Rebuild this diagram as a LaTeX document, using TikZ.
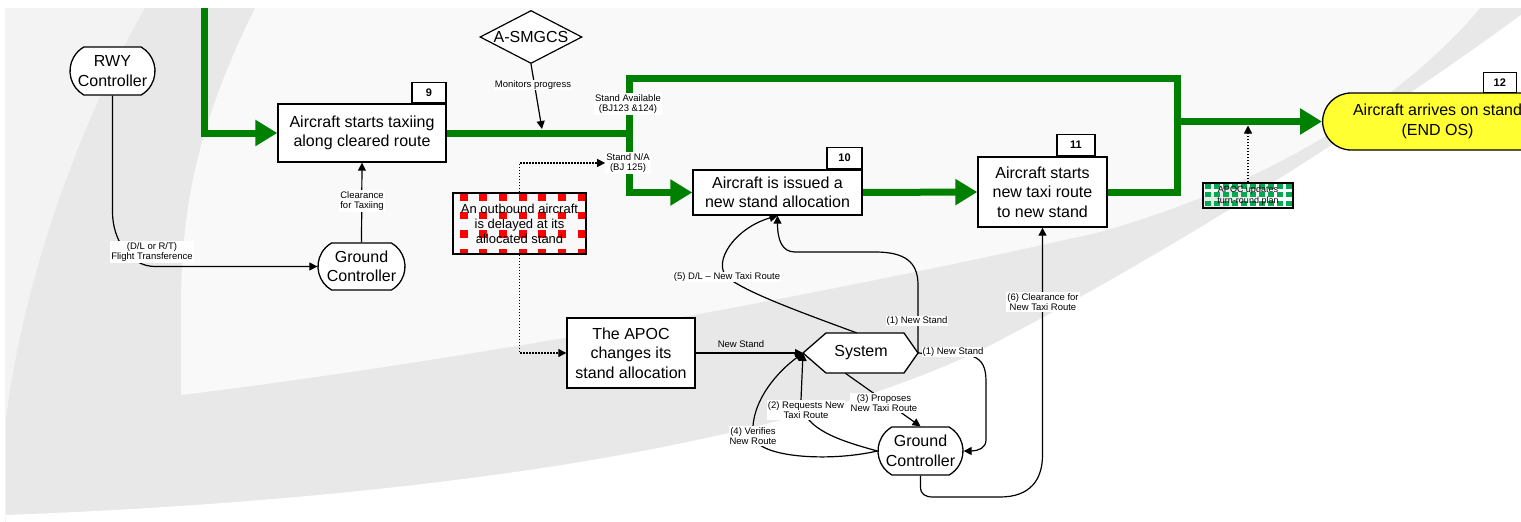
\documentclass[tikz,border=0pt]{standalone}
\usepackage{fontspec}
\setmainfont{Liberation Sans}
\usetikzlibrary{arrows.meta,shapes.geometric,shapes.misc}
\definecolor{flow}{RGB}{0,128,0}
\definecolor{bgband}{RGB}{232,232,232}
\definecolor{bglight}{RGB}{243,243,243}
\definecolor{bginner}{RGB}{249,249,249}
\definecolor{stopred}{RGB}{255,0,0}
\definecolor{chkgreen}{RGB}{0,170,80}
\definecolor{endyellow}{RGB}{255,255,50}
\pgfdeclarelayer{back}
\pgfdeclarelayer{wires}
\pgfsetlayers{back,wires,main}

\begin{document}
\begin{tikzpicture}[x=1pt,y=-1pt,
  every node/.style={inner sep=0pt},
  mainfont/.style={font=\fontsize{16}{19.5}\selectfont},
  box/.style={draw=black,line width=1.4pt,fill=white,align=center,mainfont},
  numbox/.style={draw=black,line width=1.4pt,fill=white,font=\fontsize{11}{12}\selectfont\bfseries,
    minimum width=34pt,minimum height=20pt},
  ctrl/.style={rounded rectangle,rounded rectangle arc length=120,draw=black,line width=1.3pt,
    fill=white,align=center,mainfont},
  tag/.style={fill=white,align=center,font=\fontsize{9.5}{10.5}\selectfont,inner sep=1pt},
  flowline/.style={draw=flow,line width=7pt},
  flowarrow/.style={flowline,-{Triangle[length=22pt,width=25pt]}},
  conn/.style={draw=black,line width=1.2pt,-{Triangle[length=8pt,width=8pt]}},
  dotconn/.style={conn,dash pattern=on 1.5pt off 1.5pt},
  late/.style={draw=black,line width=1.4pt,minimum width=133pt,minimum height=61pt,align=center,
    font=\fontsize{13}{15}\selectfont,
    path picture={\foreach \i in {0,...,6}{\foreach \j in {0,...,3}{
      \fill[stopred] ([xshift=6.5pt+\i*19.7pt,yshift=-\j*18.6pt]path picture bounding box.north west)
        rectangle ++(8pt,-7.5pt);}}}},
  chk/.style={draw=black,line width=1.2pt,minimum width=90pt,minimum height=25pt,align=center,
    font=\fontsize{9}{10.5}\selectfont,
    path picture={\foreach \i in {0,...,9}{\foreach \j in {0,...,2}{
      \fill[chkgreen] ([xshift=1.5pt+\i*9pt,yshift=-0.5pt-\j*8.5pt]path picture bounding box.north west)
        rectangle ++(6pt,-5pt);}}}},
]
\useasboundingbox (0,0) rectangle (1521,522);
\clip (0,0) rectangle (1521,522);

% backdrop swoosh
\begin{pgfonlayer}{back}
  \fill[white] (0,0) rectangle (1521,522);
  \fill[bglight] (5,8) rectangle (1521,522);
  \fill[bgband] (145,8) .. controls (70,140) and (20,300) .. (6,420) -- (6,522) -- (1521,522) -- (1521,8) -- cycle;
  \fill[white] (6,522) -- (6,515) .. controls (400,500) and (800,450) .. (1010,335)
     .. controls (1150,262) and (1350,140) .. (1521,15) -- (1521,522) -- cycle;
  \fill[bginner] (255,8) .. controls (200,120) and (182,200) .. (181,300) -- (181,395)
     .. controls (450,362) and (800,300) .. (1100,232) .. controls (1300,175) and (1420,80) .. (1480,8) -- cycle;
\end{pgfonlayer}

% process boxes
\node[box,minimum width=168pt,minimum height=58pt] (n9) at (362,133) {Aircraft starts taxiing\\along cleared route};
\node[numbox,anchor=south east] (k9) at (n9.north east) {9};
\node[box,minimum width=169pt,minimum height=45pt] (n10) at (777.5,192.5) {Aircraft is issued a\\new stand allocation};
\node[numbox,anchor=south east,minimum width=35pt,minimum height=21pt] (k10) at (n10.north east) {10};
\node[box,minimum width=129pt,minimum height=70pt] (n11) at (1042.5,192) {Aircraft starts\\new taxi route\\to new stand};
\node[numbox,anchor=south east,minimum width=38pt,minimum height=21pt] (k11) at ([xshift=-12pt]n11.north east) {11};
\node[rounded rectangle,rounded rectangle right arc=none,draw=black,line width=1.3pt,fill=endyellow,
  minimum height=57pt,minimum width=228pt,inner xsep=2pt,align=center,mainfont,anchor=west] (n12) at (1322,121.5)
  {Aircraft arrives on stand\\(END OS)};
\node[numbox,anchor=south east,minimum width=33pt] (k12) at (1517,93) {12};
\node[box,minimum width=128pt,minimum height=70pt] (apoc) at (631,353) {The APOC\\changes its\\stand allocation};

% actors
\node[ctrl,minimum width=85pt,minimum height=48pt] (rwy) at (112.5,71) {RWY\\Controller};
\node[ctrl,minimum width=87pt,minimum height=47pt] (gc1) at (361.5,266.5) {Ground\\Controller};
\node[ctrl,minimum width=85pt,minimum height=48pt] (gc2) at (920.5,451) {Ground\\Controller};
\node[diamond,aspect=1.9,draw=black,line width=1.2pt,fill=white,minimum width=102pt,minimum height=53pt,mainfont]
  (asm) at (531,37) {A-SMGCS};
\draw[draw=black,line width=1.3pt,fill=white] (803,353) -- (826,333) -- (904,333) -- (918,353) -- (904,373) -- (826,373) -- cycle;
\node[mainfont] (sys) at (861,353) {System};
\coordinate (sysL) at (803,353);
\coordinate (sysR) at (918,353);
\coordinate (sysT) at (857,333);
\coordinate (sysB) at (845,373);

% events
\node[late] (late) at (519.5,223.5) {An outbound aircraft\\is delayed at its\\allocated stand};
\node[chk] (upd) at (1248,195.5) {APOC updates\\turn-round plan};

% connector labels
\node[tag] (lblFT) at (152,252) {(D/L or R/T)\\Flight Transference};
\node[tag] (lblCT) at (362,201) {Clearance\\for Taxiing};
\node[tag] (lblMP) at (533,85) {Monitors progress};
\node[tag] (sav) at (628,104) {Stand Available\\(BJ123 \&124)};
\node[tag] (sna) at (628,163) {Stand N/A\\(BJ 125)};
\node[tag,fill=none] (lblNS) at (741,344) {New Stand};
\node[tag] (lbl1a) at (917,321) {(1) New Stand};
\node[tag] (lbl1b) at (953,352) {(1) New Stand};
\node[tag] (lbl5) at (727,277) {(5) D/L -- New Taxi Route};
\node[tag] (lbl3) at (884,403) {(3) Proposes\\New Taxi Route};
\node[tag] (lbl2) at (806,410) {(2) Requests New\\Taxi Route};
\node[tag] (lbl4) at (753,436) {(4) Verifies\\New Route};
\node[tag] (lbl6) at (1043,302) {(6) Clearance for\\New Taxi Route};

\coordinate (entry) at (204,8);
\coordinate (split) at (629,133);
\coordinate (rj) at (1177,78);
\coordinate (mon) at (542,129);
\coordinate (updT) at (1248,125.5);

\begin{pgfonlayer}{wires}
  % main flow
  \draw[flowarrow] (entry) |- (n9.west);
  \draw[flowline] (n9.east) -- (split);
  \draw[flowline] (n11.east) -| (rj) -- (split |- rj) -- (split);
  \draw[flowarrow] (split) |- (n10.west);
  \draw[flowarrow] (n10.east) -- (n11.west);
  \draw[flowarrow] (rj |- n12.west) -- (n12.west);

  % information exchanges
  \draw[conn] (rwy.south) -- (112.5,212) .. controls (112.5,240) and (130,266.5) .. (155,266.5) -- (gc1.west);
  \draw[conn] (gc1.north) -- (n9.south);
  \draw[conn] (asm.south) -- (mon);
  \draw[dotconn] (late.north) |- (sna.west);
  \draw[dotconn] (late.south) |- (apoc.west);
  \draw[dotconn] (upd.north) -- (updT);
  \draw[conn] (apoc.east) -- (sysL);
  \draw[conn] (sysR) -- (918,285) .. controls (918,262) and (905,252) .. (875,252) -- (795,252)
     .. controls (782,252) and (777.5,240) .. (n10.south);
  \draw[conn] (sysT) .. controls (800,312) and (745,292) .. (727,277) .. controls (712,262) and (735,228) .. (n10.south);
  \draw[conn] (sysR) -- (972,356) .. controls (983,360) and (986,368) .. (986,382) -- (986,440)
     .. controls (986,448) and (978,451) .. (gc2.east);
  \draw[conn] (sysB) -- (gc2.north);
  \draw[conn] (gc2.west) .. controls (845,442) and (801,430) .. (801,400) -- (sysL);
  \draw[conn] (gc2.west) .. controls (830,462) and (758,458) .. (753,436) .. controls (750,400) and (780,370) .. (sysL);
  \draw[conn] (gc2.south) -- (920.5,487) .. controls (920.5,494) and (925,497) .. (933,497) -- (1000,497)
     .. controls (1030,497) and (1042.5,480) .. (1042.5,455) -- (n11.south);
\end{pgfonlayer}
\end{tikzpicture}
\end{document}
